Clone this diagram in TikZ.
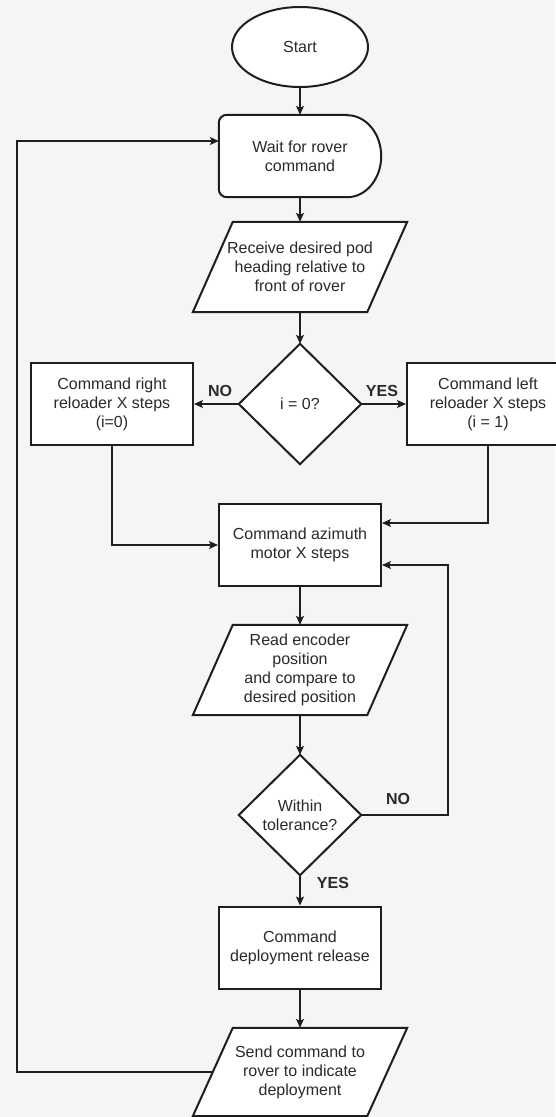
\documentclass[tikz,border=0pt]{standalone}
\usepackage{fontspec}
\setmainfont{Liberation Sans}
\usetikzlibrary{arrows.meta,calc,shapes.geometric}
\pgfdeclarelayer{back}
\pgfdeclarelayer{shapes}
\pgfsetlayers{back,shapes,main}

\definecolor{bgc}{HTML}{F5F5F5}
\definecolor{ink}{HTML}{1E1E1E}
\definecolor{txtc}{HTML}{2A2A2A}

\tikzset{
  shp/.style={draw=ink, line width=2pt, fill=white, line join=miter},
  lbl/.style={text=txtc, font=\fontsize{16}{19}\selectfont, align=center, inner sep=0pt},
  procbox/.style={lbl, shp, minimum width=162pt, minimum height=82pt},
  slot/.style={lbl, minimum width=#1, minimum height=88pt},
  slot/.default=174pt,
  decision/.style={lbl, minimum width=122pt, minimum height=120pt},
  conn/.style={draw=ink, line width=1.1pt, -{Stealth[length=9pt,width=8pt,inset=2pt]}},
  answer/.style={text=txtc, font=\fontsize{16}{19}\selectfont\bfseries, inner sep=0pt},
}

% parallelogram (data) outline around an invisible node
\newcommand\dataoutline[1]{%
  \draw[shp] ($(#1.north west)+(20,0)$) -- ($(#1.north east)+(20,0)$)
    -- ($(#1.south east)+(-20,0)$) -- ($(#1.south west)+(-20,0)$) -- cycle;}
% diamond outline around an invisible node
\newcommand\decoutline[1]{%
  \draw[shp] (#1.north) -- (#1.east) -- (#1.south) -- (#1.west) -- cycle;}

\begin{document}
\begin{tikzpicture}[x=1pt,y=-1pt]
\begin{pgfonlayer}{back}
  \fill[bgc] (0,0) rectangle (555,1117);
\end{pgfonlayer}
\useasboundingbox (0,0) rectangle (555,1117);

% ---- nodes ----
\node[lbl, shp, ellipse, minimum width=136pt, minimum height=80pt] (start) at (300,47) {Start};
\node[lbl, minimum width=162pt, minimum height=82pt] (wait) at (300,156) {Wait for rover\\command};
\node[slot, minimum height=90pt] (recv) at (300,267) {Receive desired pod\\heading relative to\\front of rover};
\node[decision] (dec1) at (300,404) {i = 0?};
\node[procbox] (lbox) at (112,404) {Command right\\reloader X steps\\(i=0)};
\node[procbox] (rbox) at (488,404) {Command left\\reloader X steps\\(i = 1)};
\node[procbox] (az) at (300,545) {Command azimuth\\motor X steps};
\node[slot, minimum height=90pt] (read) at (300,670) {Read encoder\\position\\and compare to\\desired position};
\node[decision] (dec2) at (300,815) {Within\\tolerance?};
\node[procbox] (dep) at (300,947.5) {Command\\deployment release};
\node[slot] (send) at (300,1072) {Send command to\\rover to indicate\\deployment};

% ---- outlines of the drawn shapes ----
\begin{pgfonlayer}{shapes}
  \draw[shp] ($(wait.north east)+(-34,0)$)
    [rounded corners=8pt] -- (wait.north west) -- (wait.south west)
    [sharp corners] -- ($(wait.south east)+(-34,0)$)
    arc[start angle=-90, end angle=90, x radius=34pt, y radius=41pt] -- cycle;
  \dataoutline{recv}
  \dataoutline{read}
  \dataoutline{send}
  \decoutline{dec1}
  \decoutline{dec2}
\end{pgfonlayer}

% ---- connectors ----
\coordinate (loopx) at (448,0);
\coordinate (backx) at (17,0);

\draw[conn] (start.south) -- (wait.north);
\draw[conn] (wait.south) -- (recv.north);
\draw[conn] (recv.south) -- (dec1.north);
\draw[conn] (dec1.west) -- (lbox.east);
\draw[conn] (dec1.east) -- (rbox.west);
\draw[conn] (lbox.south) |- (az.west);
\draw[conn] (rbox.south) |- ($(az.east)+(0,-22)$);
\draw[conn] (az.south) -- (read.north);
\draw[conn] (read.south) -- (dec2.north);
\draw[conn] (dec2.east) -- (dec2.east -| loopx) |- ($(az.east)+(0,20)$);
\draw[conn] (dec2.south) -- (dep.north);
\draw[conn] (dep.south) -- (send.north);
\draw[conn] (send.west) -- (send.west -| backx) |- ($(wait.west)+(0,-15)$);

% ---- branch answers ----
\node[answer] (no1) at (220,391) {NO};
\node[answer] (yes1) at (382,391) {YES};
\node[answer] (no2) at (398,799) {NO};
\node[answer] (yes2) at (333,883) {YES};
\end{tikzpicture}
\end{document}
